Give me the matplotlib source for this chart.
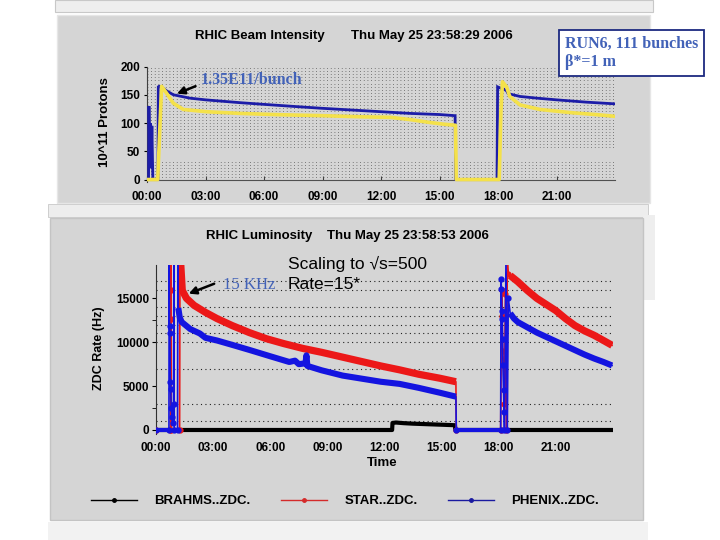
import numpy as np
import matplotlib
matplotlib.use('Agg')
import matplotlib.pyplot as plt
from matplotlib.patches import Rectangle
from matplotlib.lines import Line2D

plt.rcParams['font.family'] = ['Liberation Sans', 'DejaVu Sans']

W, H = 720, 540

# ---------------- data: RHIC beam intensity (10^11 protons) vs time (h) ----------------
beam_blue_t = [0.00, 0.08, 0.10, 0.14, 0.18, 0.21, 0.25, 0.30, 0.34, 0.56, 0.58, 0.62, 0.84, 1.00,
               1.35, 2.20, 3.00, 4.77, 6.00, 7.68, 9.00, 10.50, 12.00, 13.50, 15.00, 15.80, 15.83,
               17.95, 17.98, 18.18, 18.30, 18.44, 18.52, 19.13, 20.00, 21.00, 22.50, 23.95]
beam_blue_v = [0, 0, 130, 30, 100, 20, 95, 0, 0, 0, 164, 165, 161, 157,
               150, 144, 141, 136, 133, 129, 126, 123, 120, 117, 115, 113, 0,
               0, 164, 161, 160, 157, 152, 147, 144, 141, 137, 134]

beam_yel_t = [0.00, 0.55, 0.62, 0.75, 1.00, 1.35, 1.86, 3.06, 4.77, 6.50, 7.68, 9.00, 11.00, 12.50,
              13.50, 14.50, 15.20, 15.82, 15.86, 18.06, 18.15, 18.23, 18.44, 18.60, 19.13, 20.15,
              21.86, 23.00, 23.95]
beam_yel_v = [0, 0, 60, 165, 153, 135, 124, 120, 117, 115, 114, 113, 111, 110,
              106, 101, 98, 96, 0, 0, 120, 173, 164, 147, 132, 124,
              118, 115, 112]

# ---------------- data: ZDC rates (Hz) vs time (h) ----------------
star_inj1_t = [0.00, 0.76, 0.77, 0.775, 0.78, 0.79, 1.24, 1.26]
star_inj1_v = [0, 0, 19500, 15900, 12700, 0, 0, 19500]
star_fill1_t = [1.30, 1.38, 1.60, 2.00, 2.60, 3.20, 4.00, 4.90, 5.80, 6.70, 7.70, 8.70, 9.80,
                10.80, 11.80, 12.80, 13.80, 14.90, 15.75]
star_fill1_v = [18900, 15900, 15000, 14200, 13400, 12700, 11900, 11100, 10400, 9850, 9300, 8850, 8300,
                7800, 7300, 6850, 6350, 5900, 5500]
star_inj2_t = [15.77, 18.10, 18.15, 18.18, 18.21, 18.25, 18.30, 18.35, 18.40, 18.45, 18.50]
star_inj2_v = [0, 0, 16000, 13000, 9000, 7500, 3000, 15500, 0, 19500, 17800]
star_fill2_t = [18.60, 19.00, 19.50, 20.00, 20.50, 21.00, 21.50, 22.00, 22.50, 23.00, 23.50, 23.95]
star_fill2_v = [17600, 16900, 15900, 15000, 14300, 13600, 12700, 11900, 11300, 10800, 10200, 9650]

phx_inj1_t = [0.00, 0.68, 0.69, 0.71, 0.73, 0.75, 0.77, 0.80, 0.84, 0.88, 0.92, 0.94, 0.96, 1.13, 1.15]
phx_inj1_v = [0, 0, 19500, 11800, 11000, 5500, 4700, 2500, 1500, 800, 3000, 19500, 0, 0, 19500]
phx_fill1_t = [1.17, 1.25, 1.35, 1.80, 2.30, 2.60, 3.20, 4.00, 4.94, 6.00, 7.00, 7.30, 7.50, 7.85,
               7.90, 7.95, 8.70, 9.80, 10.80, 11.80, 12.80, 13.80, 14.90, 15.75]
phx_fill1_v = [13900, 12800, 12300, 11500, 11000, 10500, 10200, 9700, 9100, 8400, 7750, 7900, 7500, 7600,
               8500, 7300, 6800, 6200, 5850, 5500, 5250, 4800, 4250, 3800]
phx_inj2_t = [15.77, 18.10, 18.12, 18.14, 18.16, 18.18, 18.20, 18.22, 18.25, 18.28, 18.30, 18.38, 18.45, 18.50]
phx_inj2_v = [0, 0, 17200, 16100, 13600, 12700, 10400, 7400, 4500, 2000, 0, 19500, 0, 15000]
phx_fill2_t = [18.60, 18.80, 19.00, 19.50, 20.00, 20.50, 21.00, 21.50, 22.00, 22.50, 23.00, 23.50, 23.95]
phx_fill2_v = [13300, 12700, 12300, 11700, 11100, 10600, 10100, 9600, 9100, 8600, 8150, 7750, 7350]

brahms_t = [0.00, 12.40, 12.42, 12.60, 13.00, 13.50, 14.00, 14.50, 15.00, 15.50, 15.70, 15.72, 24.00]
brahms_v = [0, 0, 800, 850, 780, 720, 680, 640, 600, 560, 540, 0, 0]

hour_ticks = [0, 3, 6, 9, 12, 15, 18, 21]
hour_labels = ['00:00', '03:00', '06:00', '09:00', '12:00', '15:00', '18:00', '21:00']
intensity_ticks = [0, 50, 100, 150, 200]
rate_ticks = [0, 5000, 10000, 15000]
rate_minor_ticks = [2500, 12500]
rate_grid = [1000, 3000, 7000, 10000, 11000, 12000, 13000, 14000, 16000, 17000]

# ---------------- colours ----------------
PANEL = '#d5d5d5'
C_BLUE_BEAM = '#1c1ca8'
C_YEL_BEAM = '#f4e14a'
C_STAR = '#ec1818'
C_PHX = '#1414e0'
C_NOTE = '#4262b8'

fig = plt.figure(figsize=(7.2, 5.4), dpi=100)
fig.patch.set_facecolor('white')


def px_rect(x, y, w, h, fc, ec='none', lw=0.0, z=-10):
    fig.add_artist(Rectangle((x / W, 1 - (y + h) / H), w / W, h / H, transform=fig.transFigure,
                             facecolor=fc, edgecolor=ec, linewidth=lw, zorder=z))


def px_axes(x0, y0, x1, y1):
    ax = fig.add_axes([x0 / W, 1 - y1 / H, (x1 - x0) / W, (y1 - y0) / H])
    ax.set_facecolor('none')
    return ax


def fx(x):
    return x / W


def fy(y):
    return 1 - y / H


# background screenshot panels
px_rect(55, 0, 598, 12, '#eeeeee', '#c8c8c8', 0.8)
px_rect(57, 15, 593, 188, PANEL, '#e6e6e6', 1.0)
px_rect(48, 204, 600, 13, '#ededed', '#c8c8c8', 0.6)
px_rect(643, 215, 12, 85, '#eeeeee')
px_rect(50, 218, 593, 302, PANEL, '#c4c4c4', 1.0)
px_rect(48, 522, 600, 18, '#f2f2f2')

bold = dict(fontweight='bold', color='black')

# ================= top panel: beam intensity =================
ax1 = px_axes(147, 66.5, 615, 181.8)
ax1.set_xlim(0, 24)
ax1.set_ylim(-4, 200)
for v in np.arange(5.31, 200, 5.31):
    if 36 < v < 58:
        continue
    ax1.axhline(v, color='#5a5a5a', lw=0.6, ls=(0, (1, 3.4)), zorder=1)
ax1.plot(beam_blue_t, beam_blue_v, color=C_BLUE_BEAM, lw=2.0, zorder=3, solid_joinstyle='miter')
ax1.plot(beam_yel_t, beam_yel_v, color=C_YEL_BEAM, lw=2.6, zorder=4)
for s in ['top', 'right']:
    ax1.spines[s].set_visible(False)
ax1.spines['bottom'].set_position(('data', 0))
ax1.spines['bottom'].set_color('#505050')
ax1.spines['left'].set_color('#404040')
ax1.spines['left'].set_linewidth(0.8)
ax1.spines['bottom'].set_linewidth(0.8)
ax1.set_xticks(hour_ticks)
ax1.set_xticklabels(hour_labels)
ax1.set_yticks(intensity_ticks)
ax1.tick_params(axis='x', direction='in', length=3, pad=8, labelsize=8.5, color='#404040')
ax1.tick_params(axis='y', direction='out', length=2, pad=3, labelsize=8.5)
for lab in ax1.get_xticklabels() + ax1.get_yticklabels():
    lab.set_fontweight('bold')

ax1.text(2.75, 176, '1.35E11/bunch', family=['Liberation Serif', 'DejaVu Serif'], fontsize=11.5,
         fontweight='bold', color=C_NOTE, ha='left', va='center', zorder=6)
ax1.annotate('', xy=(1.40, 150), xytext=(2.62, 167),
             arrowprops=dict(arrowstyle='-|>', color='black', lw=1.8, mutation_scale=11), zorder=6)

fig.text(fx(260), fy(35.5), 'RHIC Beam Intensity', fontsize=9.5, ha='center', va='center', **bold)
fig.text(fx(431.5), fy(35.5), 'Thu May 25 23:58:29 2006', fontsize=9.5, ha='center', va='center', **bold)
fig.text(fx(105), fy(122), '10^11 Protons', fontsize=9.5, rotation=90, ha='center', va='center', **bold)

# ================= bottom panel: ZDC rates =================
ax2 = px_axes(156, 265, 613, 433.5)
ax2.set_xlim(0, 24)
ax2.set_ylim(-400, 18800)
for v in rate_grid:
    ax2.axhline(v, color='#222222', lw=0.8, ls=(0, (1, 3)), zorder=1)


def zero_runs(t, v):
    tt, vv = [], []
    for i in range(len(t) - 1):
        if v[i] == 0 and v[i + 1] == 0:
            tt += [t[i], t[i + 1], np.nan]
            vv += [0, 0, np.nan]
    return tt, vv


# BRAHMS
ax2.plot(brahms_t, brahms_v, color='black', lw=3.0, zorder=2, solid_capstyle='butt')
# STAR
star_all_t = star_inj1_t + star_fill1_t + star_inj2_t + star_fill2_t
star_all_v = star_inj1_v + star_fill1_v + star_inj2_v + star_fill2_v
ax2.plot(star_all_t, star_all_v, color=C_STAR, lw=1.2, zorder=3)
ax2.plot(star_inj1_t + star_inj2_t, star_inj1_v + star_inj2_v, ls='none', marker='o', ms=3.5,
         color=C_STAR, zorder=3)
ax2.plot(star_fill1_t, star_fill1_v, color=C_STAR, lw=5.2, zorder=3, solid_capstyle='butt')
ax2.plot(star_fill2_t, star_fill2_v, color=C_STAR, lw=5.2, zorder=3, solid_capstyle='butt')
# PHENIX
phx_all_t = phx_inj1_t + phx_fill1_t + phx_inj2_t + phx_fill2_t
phx_all_v = phx_inj1_v + phx_fill1_v + phx_inj2_v + phx_fill2_v
ax2.plot(phx_all_t, phx_all_v, color=C_PHX, lw=1.2, zorder=4)
ax2.plot(phx_inj1_t + phx_inj2_t, phx_inj1_v + phx_inj2_v, ls='none', marker='o', ms=3.5,
         color=C_PHX, zorder=4)
zt, zv = zero_runs(phx_all_t, phx_all_v)
ax2.plot(zt, zv, color=C_PHX, lw=3.0, zorder=4, solid_capstyle='butt')
ax2.plot(phx_fill1_t, phx_fill1_v, color=C_PHX, lw=4.4, zorder=4, solid_capstyle='butt')
ax2.plot(phx_fill2_t, phx_fill2_v, color=C_PHX, lw=4.4, zorder=4, solid_capstyle='butt')

for s in ['top', 'right', 'bottom']:
    ax2.spines[s].set_visible(False)
ax2.spines['left'].set_color('#303030')
ax2.spines['left'].set_linewidth(0.8)
ax2.set_xticks(hour_ticks)
ax2.set_xticklabels(hour_labels)
ax2.set_yticks(rate_ticks)
ax2.set_yticks(rate_minor_ticks, minor=True)
ax2.tick_params(axis='x', length=0, pad=6, labelsize=8.5)
ax2.tick_params(axis='y', which='major', direction='out', length=3, pad=2, labelsize=8.5)
ax2.tick_params(axis='y', which='minor', direction='out', length=3)
for lab in ax2.get_xticklabels() + ax2.get_yticklabels():
    lab.set_fontweight('bold')

ax2.text(3.52, 16550, '15 KHz', family=['Liberation Serif', 'DejaVu Serif'], fontsize=12,
         color=C_NOTE, ha='left', va='center', zorder=6)
ax2.annotate('', xy=(1.58, 15420), xytext=(3.19, 16780),
             arrowprops=dict(arrowstyle='-|>', color='black', lw=1.8, mutation_scale=11), zorder=6)
ax2.text(6.93, 18940, 'Scaling to \u221as=500', fontsize=12.5, color='black', ha='left', va='center', zorder=6)
ax2.text(6.93, 16530, 'Rate=15*', fontsize=12.5, color='black', ha='left', va='center', zorder=6)

fig.text(fx(259.5), fy(236), 'RHIC Luminosity', fontsize=9.5, ha='center', va='center', **bold)
fig.text(fx(408), fy(236), 'Thu May 25 23:58:53 2006', fontsize=9.5, ha='center', va='center', **bold)
fig.text(fx(99), fy(348), 'ZDC Rate (Hz)', fontsize=9, rotation=90, ha='center', va='center', **bold)
fig.text(fx(382), fy(463), 'Time', fontsize=9.5, ha='center', va='center', **bold)

handles = [Line2D([], [], color='black', lw=1.0, marker='o', ms=2.5),
           Line2D([], [], color='#d42a2a', lw=1.0, marker='o', ms=2.5),
           Line2D([], [], color='#1a1aa0', lw=1.0, marker='o', ms=2.5)]
leg = fig.legend(handles, ['BRAHMS..ZDC.', 'STAR..ZDC.', 'PHENIX..ZDC.'], loc='center',
                 bbox_to_anchor=(fx(345), fy(501)), ncol=3, frameon=False, numpoints=1,
                 handlelength=3.5, handletextpad=1.3, columnspacing=2.3,
                 prop=dict(weight='bold', size=9.5))

# annotation box
fig.text(fx(565), fy(53), 'RUN6, 111 bunches\n\u03b2*=1 m', family=['Liberation Serif', 'DejaVu Serif'],
         fontsize=11.5, fontweight='bold', color=C_NOTE, ha='left', va='center', linespacing=1.25,
         bbox=dict(boxstyle='square,pad=0.35', facecolor='white', edgecolor='#1c2a80', linewidth=1.3),
         zorder=20)

fig.savefig('out.png', dpi=100, facecolor='white')
